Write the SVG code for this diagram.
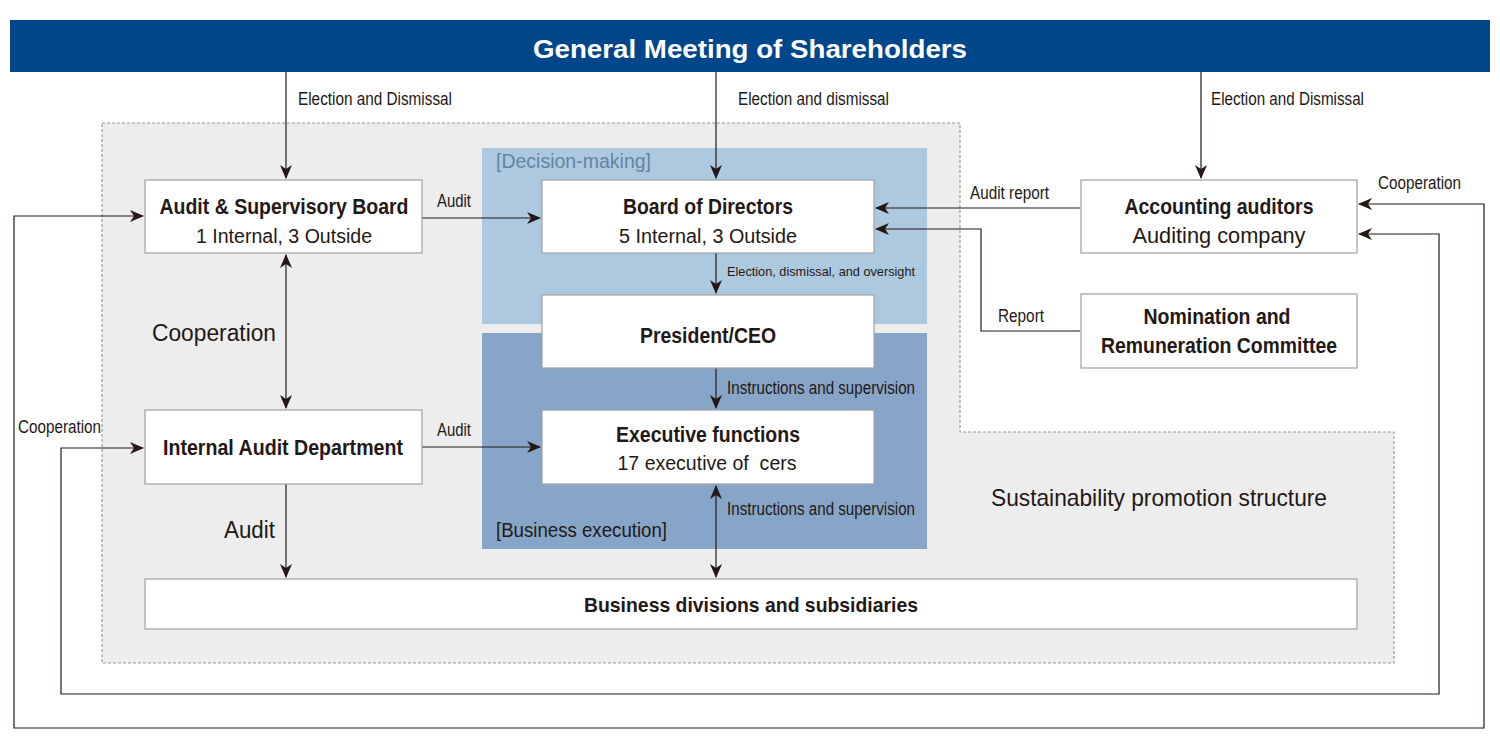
<svg xmlns="http://www.w3.org/2000/svg" width="1500" height="750" viewBox="0 0 1500 750">
<style>
text{font-family:"Liberation Sans",Arial,sans-serif;fill:#231815}
.b{font-weight:bold}
.box{fill:#fff;stroke:#a0a0a0;stroke-width:1.2}
.ln{fill:none;stroke:#231815;stroke-width:1.2}
.lbl{font-size:17.5px}
.mid{text-anchor:middle}
</style>
<defs>
<marker id="ah" markerUnits="userSpaceOnUse" markerWidth="14" markerHeight="12" viewBox="0 0 14 12" refX="13" refY="6" orient="auto-start-reverse">
<path d="M0,0 L14,6 L0,12 L4,6 z" fill="#231815"/>
</marker>
</defs>
<rect width="1500" height="750" fill="#fff"/>
<g id="header">
<rect x="10" y="20" width="1480" height="52" fill="#00468b"/>
<text x="750" y="58" class="b mid" font-size="26" style="fill:#fff" textLength="434" lengthAdjust="spacingAndGlyphs">General Meeting of Shareholders</text>
</g>
<g id="sustainability-area">
<path d="M102,123 H960 V432 H1394 V663 H102 Z" fill="#ededed" stroke="#9a9a9a" stroke-width="1.2" stroke-dasharray="3,2"/>
<text x="991" y="506" font-size="24" textLength="336" lengthAdjust="spacingAndGlyphs">Sustainability promotion structure</text>
</g>
<g id="decision-making">
<rect x="482" y="148" width="445" height="176" fill="#adc9e0"/>
<text x="496" y="168" font-size="19.5" style="fill:#6583a4" textLength="155" lengthAdjust="spacingAndGlyphs">[Decision-making]</text>
</g>
<g id="business-execution">
<rect x="482" y="333" width="445" height="216" fill="#87a5c9"/>
<text x="496" y="537" font-size="19.5" textLength="171" lengthAdjust="spacingAndGlyphs">[Business execution]</text>
</g>
<g id="connectors">
<path class="ln" d="M286,72 V178" marker-end="url(#ah)"/>
<path class="ln" d="M716,72 V178" marker-end="url(#ah)"/>
<path class="ln" d="M1201,72 V178" marker-end="url(#ah)"/>
<path class="ln" d="M422,218 H540" marker-end="url(#ah)"/>
<path class="ln" d="M1080,208 H876" marker-end="url(#ah)"/>
<path class="ln" d="M1080,331 H981 V229 H876" marker-end="url(#ah)"/>
<path class="ln" d="M716,253 V293" marker-end="url(#ah)"/>
<path class="ln" d="M716,368 V408" marker-end="url(#ah)"/>
<path class="ln" d="M716,486 V577" marker-start="url(#ah)" marker-end="url(#ah)"/>
<path class="ln" d="M286,255 V408" marker-start="url(#ah)" marker-end="url(#ah)"/>
<path class="ln" d="M422,447 H540" marker-end="url(#ah)"/>
<path class="ln" d="M286,484 V577" marker-end="url(#ah)"/>
<path class="ln" d="M1359,204 H1484 V728 H14 V216 H143" marker-start="url(#ah)" marker-end="url(#ah)"/>
<path class="ln" d="M1359,234 H1439 V694 H61 V448 H143" marker-start="url(#ah)" marker-end="url(#ah)"/>
<text x="298" y="105" class="lbl" textLength="154" lengthAdjust="spacingAndGlyphs">Election and Dismissal</text>
<text x="738" y="105" class="lbl" textLength="151" lengthAdjust="spacingAndGlyphs">Election and dismissal</text>
<text x="1211" y="105" class="lbl" textLength="153" lengthAdjust="spacingAndGlyphs">Election and Dismissal</text>
<text x="437" y="207" class="lbl" textLength="34" lengthAdjust="spacingAndGlyphs">Audit</text>
<text x="970" y="199" class="lbl" textLength="79" lengthAdjust="spacingAndGlyphs">Audit report</text>
<text x="1378" y="189" class="lbl" textLength="83" lengthAdjust="spacingAndGlyphs">Cooperation</text>
<text x="727" y="276" font-size="13.5" textLength="188" lengthAdjust="spacingAndGlyphs">Election, dismissal, and oversight</text>
<text x="998" y="322" class="lbl" textLength="46" lengthAdjust="spacingAndGlyphs">Report</text>
<text x="152" y="341" font-size="23" textLength="124" lengthAdjust="spacingAndGlyphs">Cooperation</text>
<text x="727" y="394" class="lbl" textLength="188" lengthAdjust="spacingAndGlyphs">Instructions and supervision</text>
<text x="18" y="433" class="lbl" textLength="83" lengthAdjust="spacingAndGlyphs">Cooperation</text>
<text x="437" y="436" class="lbl" textLength="34" lengthAdjust="spacingAndGlyphs">Audit</text>
<text x="727" y="515" class="lbl" textLength="188" lengthAdjust="spacingAndGlyphs">Instructions and supervision</text>
<text x="224" y="538" font-size="23" textLength="51" lengthAdjust="spacingAndGlyphs">Audit</text>
</g>
<g id="audit-supervisory-board">
<rect class="box" x="145" y="180" width="277" height="73"/>
<text x="284" y="214" class="b mid" font-size="22" textLength="249" lengthAdjust="spacingAndGlyphs">Audit &amp; Supervisory Board</text>
<text x="284" y="243" class="mid" font-size="20" textLength="176" lengthAdjust="spacingAndGlyphs">1 Internal, 3 Outside</text>
</g>
<g id="board-of-directors">
<rect class="box" x="542" y="180" width="332" height="73"/>
<text x="708" y="214" class="b mid" font-size="22" textLength="170" lengthAdjust="spacingAndGlyphs">Board of Directors</text>
<text x="708" y="243" class="mid" font-size="20" textLength="178" lengthAdjust="spacingAndGlyphs">5 Internal, 3 Outside</text>
</g>
<g id="accounting-auditors">
<rect class="box" x="1081" y="180" width="276" height="73"/>
<text x="1219" y="214" class="b mid" font-size="22" textLength="189" lengthAdjust="spacingAndGlyphs">Accounting auditors</text>
<text x="1219" y="243" class="mid" font-size="22" textLength="173" lengthAdjust="spacingAndGlyphs">Auditing company</text>
</g>
<g id="president-ceo">
<rect class="box" x="542" y="295" width="332" height="73"/>
<text x="708" y="343" class="b mid" font-size="22" textLength="136" lengthAdjust="spacingAndGlyphs">President/CEO</text>
</g>
<g id="nomination-committee">
<rect class="box" x="1081" y="294" width="276" height="74"/>
<text x="1217" y="324" class="b mid" font-size="22" textLength="147" lengthAdjust="spacingAndGlyphs">Nomination and</text>
<text x="1219" y="353" class="b mid" font-size="22" textLength="236" lengthAdjust="spacingAndGlyphs">Remuneration Committee</text>
</g>
<g id="internal-audit-department">
<rect class="box" x="145" y="410" width="277" height="74"/>
<text x="283" y="455" class="b mid" font-size="22" textLength="240" lengthAdjust="spacingAndGlyphs">Internal Audit Department</text>
</g>
<g id="executive-functions">
<rect class="box" x="542" y="410" width="332" height="74"/>
<text x="708" y="442" class="b mid" font-size="22" textLength="184" lengthAdjust="spacingAndGlyphs">Executive functions</text>
<text x="707" y="470" class="mid" font-size="20" textLength="179" lengthAdjust="spacingAndGlyphs" xml:space="preserve">17 executive of  cers</text>
</g>
<g id="business-divisions">
<rect class="box" x="145" y="579" width="1212" height="50"/>
<text x="751" y="612" class="b mid" font-size="21" textLength="334" lengthAdjust="spacingAndGlyphs">Business divisions and subsidiaries</text>
</g>
</svg>
